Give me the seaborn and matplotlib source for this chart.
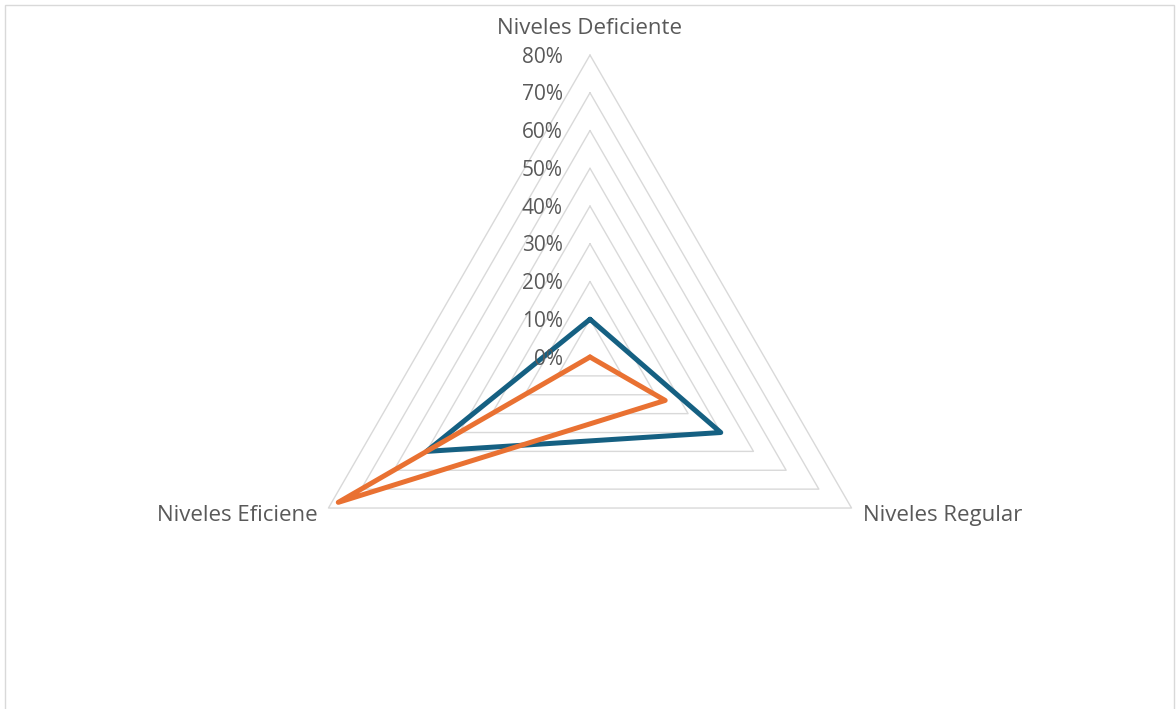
import numpy as np
import pandas as pd
import matplotlib
matplotlib.use("Agg")
import matplotlib.pyplot as plt
from matplotlib.patches import Rectangle
import seaborn as sns

# data
categories = ["Niveles Deficiente", "Niveles Regular", "Niveles Eficiene"]
serie_1 = [0.10, 0.40, 0.50]
serie_2 = [0.00, 0.23, 0.77]
series_names = ["Serie 1", "Serie 2"]
levels = [0.1, 0.2, 0.3, 0.4, 0.5, 0.6, 0.7, 0.8]
level_labels = ["0%", "10%", "20%", "30%", "40%", "50%", "60%", "70%", "80%"]

sns.set_style("white")
plt.rcParams["font.family"] = ["Open Sans", "DejaVu Sans"]

TEXT = "#595959"
GRID = "#d9d9d9"
colors = ["#156082", "#E97132"]

angles = np.linspace(0, 2 * np.pi, len(categories), endpoint=False)
closed = np.append(angles, 2 * np.pi)

rows = []
for name, vals in zip(series_names, [serie_1, serie_2]):
    for t, v in zip(closed, vals + vals[:1]):
        rows.append({"theta": t, "value": v, "serie": name})
df = pd.DataFrame(rows)

fig = plt.figure(figsize=(11.76, 7.09), dpi=100)
ax = fig.add_axes([0.2449, 0.0705, 0.5136, 0.8519], projection="polar")
ax.set_theta_offset(np.pi / 2)
ax.set_theta_direction(-1)
ax.set_ylim(0, 0.8)
ax.grid(False)
ax.set_xticks([])
ax.set_yticks([])
ax.spines["polar"].set_visible(False)
ax.patch.set_alpha(0)

# polygon grid
for lv in levels:
    ax.plot(closed, [lv] * len(closed), color=GRID, lw=1.0, clip_on=False, zorder=1)

sns.lineplot(data=df, x="theta", y="value", hue="serie", palette=colors,
             sort=False, estimator=None, legend=False, lw=3.6, ax=ax,
             clip_on=False, zorder=3)
for ln in ax.lines[len(levels):]:
    ln.set_solid_joinstyle("round")
    ln.set_solid_capstyle("round")
ax.set_xlabel("")
ax.set_ylabel("")

# radial value labels, left of the top axis
for i, lab in enumerate(level_labels):
    ax.annotate(lab, xy=(0, i * 0.1), xytext=(-27, -2), textcoords="offset pixels",
                ha="right", va="center", fontsize=15, color=TEXT, annotation_clip=False)

# category labels
offsets = [((0, 27), "center", "center"), ((11, -7), "left", "center"), ((-11, -7), "right", "center")]
for t, cat, (off, ha, va) in zip(angles, categories, offsets):
    ax.annotate(cat, xy=(t, 0.8), xytext=off, textcoords="offset pixels",
                ha=ha, va=va, fontsize=16, color=TEXT, annotation_clip=False)

# chart frame
fig.patches.append(Rectangle((5, -20), 1169, 724, transform=None, fill=False,
                             edgecolor=GRID, lw=1.0))

fig.savefig("out.png", dpi=100)
